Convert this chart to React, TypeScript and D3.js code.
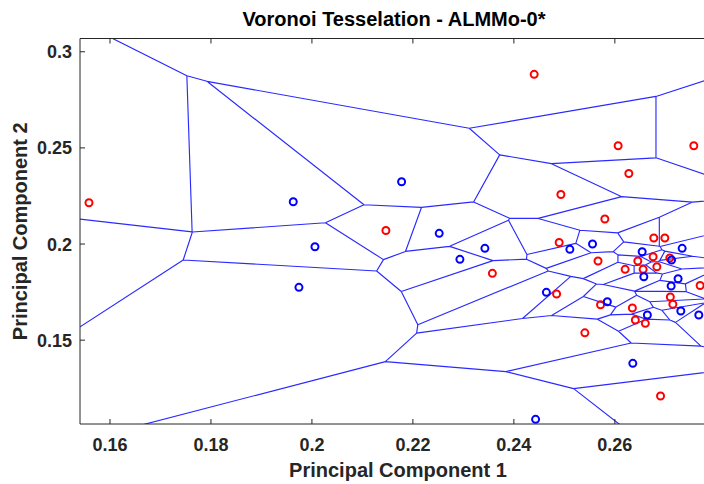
import React from 'react';
import * as d3 from 'd3';

// Class 1 (red) points
const redX = [0.15584, 0.24402, 0.26065, 0.27564, 0.26277, 0.24931, 0.25802, 0.21465, 0.24897, 0.26772, 0.2699, 0.23574, 0.25667, 0.26455, 0.26758, 0.27089, 0.26204, 0.2656, 0.26832, 0.24846, 0.25717, 0.26347, 0.26406, 0.26604, 0.27099, 0.27149, 0.27689, 0.25406, 0.26905];
const redY = [0.22148, 0.28825, 0.25112, 0.25112, 0.23666, 0.22574, 0.213, 0.20702, 0.20078, 0.20312, 0.20312, 0.18477, 0.19116, 0.19116, 0.1934, 0.19272, 0.18684, 0.18684, 0.1882, 0.174, 0.16843, 0.16672, 0.16048, 0.15876, 0.17244, 0.16869, 0.17842, 0.15382, 0.12096];
// Class 2 (blue) points
const blueX = [0.1963, 0.21776, 0.2006, 0.19743, 0.22521, 0.22931, 0.23426, 0.25109, 0.25558, 0.26541, 0.27333, 0.27123, 0.26574, 0.27253, 0.27115, 0.24644, 0.25851, 0.26644, 0.27307, 0.27663, 0.26356, 0.2443];
const blueY = [0.222, 0.2324, 0.1986, 0.17748, 0.20556, 0.19204, 0.19776, 0.19724, 0.2, 0.196, 0.19776, 0.19168, 0.183, 0.18196, 0.17816, 0.17488, 0.17, 0.16308, 0.16516, 0.16308, 0.13796, 0.10884];
// Samples lying outside the visible axes limits (they still shape the cells)
const hiddenX = [0.1509];
const hiddenY = [0.2048];

const xTicks = [0.16, 0.18, 0.2, 0.22, 0.24, 0.26];
const xTickLabels = ['0.16', '0.18', '0.2', '0.22', '0.24', '0.26'];
const yTicks = [0.15, 0.2, 0.25, 0.3];
const yTickLabels = ['0.15', '0.2', '0.25', '0.3'];

const W = 704, H = 484;
const L = 80, R = 766, T = 38.5, B = 424;
const FONT = '"Liberation Sans", Arial, Helvetica, sans-serif';
const AX = '#262626';

export default function App() {
  const xs = d3.scaleLinear().domain([0.15406, 0.28994]).range([L, R]);
  const ys = d3.scaleLinear().domain([0.1064, 0.3069]).range([B, T]);

  const pts: [number, number][] = [];
  redX.forEach((x, i) => pts.push([x, redY[i]]));
  blueX.forEach((x, i) => pts.push([x, blueY[i]]));
  hiddenX.forEach((x, i) => pts.push([x, hiddenY[i]]));

  const delaunay = d3.Delaunay.from(pts);
  const vor = delaunay.voronoi([0.0, -0.2, 0.5, 0.6]);
  let d = '';
  const ctx = {
    moveTo(x: number, y: number) { d += `M${xs(x).toFixed(2)},${ys(y).toFixed(2)}`; },
    lineTo(x: number, y: number) { d += `L${xs(x).toFixed(2)},${ys(y).toFixed(2)}`; },
    closePath() { d += 'Z'; },
  };
  vor.render(ctx as any);

  const tl = 5;
  return (
    <svg width={W} height={H} style={{ display: 'block', position: 'absolute', left: 0, top: 0, background: '#fff' }}>
      <defs>
        <clipPath id="plot">
          <rect x={L} y={T} width={R - L} height={B - T} />
        </clipPath>
      </defs>
      <rect x={0} y={0} width={W} height={H} fill="#fff" />
      <g clipPath="url(#plot)">
        <path d={d} fill="none" stroke="#2a2aff" strokeWidth={1.15} />
        {redX.map((x, i) => (
          <circle key={'r' + i} cx={xs(x)} cy={ys(redY[i])} r={3.5} fill="none" stroke="#ff0000" strokeWidth={2} />
        ))}
        {blueX.map((x, i) => (
          <circle key={'b' + i} cx={xs(x)} cy={ys(blueY[i])} r={3.5} fill="none" stroke="#0000ff" strokeWidth={2} />
        ))}
      </g>
      {/* axes box */}
      <line x1={L} y1={T} x2={R} y2={T} stroke={AX} strokeWidth={1} />
      <line x1={L} y1={B} x2={R} y2={B} stroke={AX} strokeWidth={1} />
      <line x1={L} y1={T} x2={L} y2={B} stroke={AX} strokeWidth={1} />
      {xTicks.map((t, i) => (
        <g key={'xt' + i}>
          <line x1={xs(t)} x2={xs(t)} y1={B} y2={B - tl} stroke={AX} strokeWidth={1} />
          <line x1={xs(t)} x2={xs(t)} y1={T} y2={T + tl} stroke={AX} strokeWidth={1} />
          <text x={xs(t)} y={451} textAnchor="middle" fontFamily={FONT} fontWeight="bold" fontSize={18} fill={AX}>{xTickLabels[i]}</text>
        </g>
      ))}
      {yTicks.map((t, i) => (
        <g key={'yt' + i}>
          <line x1={L} x2={L + tl} y1={ys(t)} y2={ys(t)} stroke={AX} strokeWidth={1} />
          <text x={72} y={ys(t)} dy="0.36em" textAnchor="end" fontFamily={FONT} fontWeight="bold" fontSize={18} fill={AX}>{yTickLabels[i]}</text>
        </g>
      ))}
      <text x={394} y={26} textAnchor="middle" fontFamily={FONT} fontWeight="bold" fontSize={20} fill="#000">Voronoi Tesselation - ALMMo-0*</text>
      <text x={398} y={477} textAnchor="middle" fontFamily={FONT} fontWeight="bold" fontSize={20} fill={AX}>Principal Component 1</text>
      <text transform={`translate(27,${(T + B) / 2}) rotate(-90)`} textAnchor="middle" fontFamily={FONT} fontWeight="bold" fontSize={20} fill={AX}>Principal Component 2</text>
    </svg>
  );
}
